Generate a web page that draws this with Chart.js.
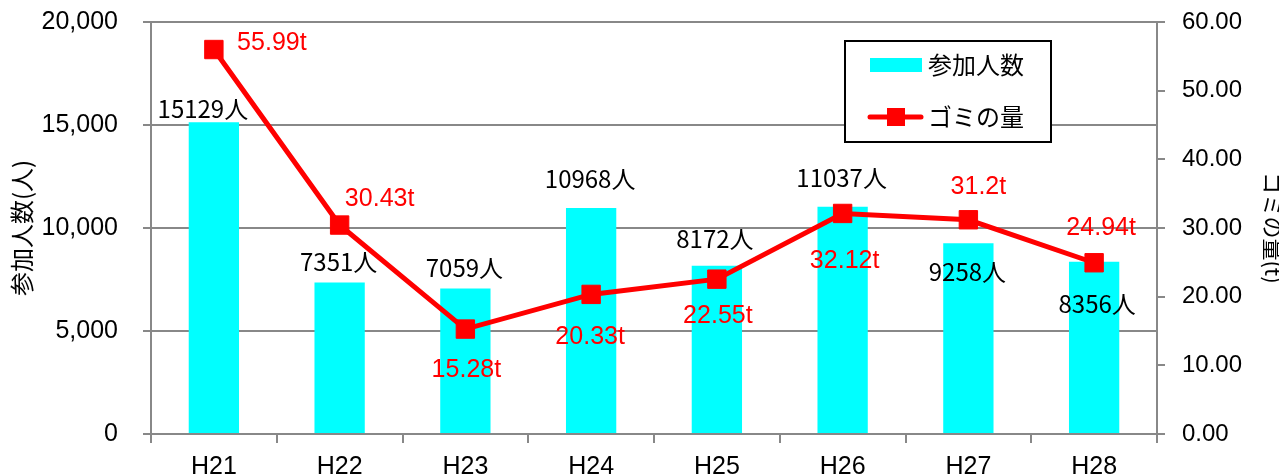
<!DOCTYPE html>
<html>
<head>
<meta charset="utf-8">
<script src="https://cdn.jsdelivr.net/npm/chart.js"></script>
<style>
  body { margin: 0; background: #fff; }
</style>
</head>
<body>
<canvas id="chart" width="1279" height="476"></canvas>
<script>
// データ
const years = ['H21', 'H22', 'H23', 'H24', 'H25', 'H26', 'H27', 'H28'];
const participants = [15129, 7351, 7059, 10968, 8172, 11037, 9258, 8356];
const garbage = [55.99, 30.43, 15.28, 20.33, 22.55, 32.12, 31.2, 24.94];
const garbageText = ['55.99', '30.43', '15.28', '20.33', '22.55', '32.12', '31.2', '24.94'];

// ラベルの位置調整 [dx, dy]
const barLabelOffset = [[-11, -13], [-1, -21], [-1, -21], [-1, -29], [-2, -27], [-1, -29], [-1, 29], [3, 42]];
const lineLabelOffset = [[58, -6], [40, -26], [1, 41], [-1, 43], [1, 37], [2, 48], [10, -33], [7, -35]];

const cjk = '"Noto Sans CJK JP", sans-serif';
const latin = '"Liberation Sans", Arial, sans-serif';

Chart.defaults.color = '#000';

// 値ラベル
const valueLabels = {
    id: 'valueLabels',
    afterDatasetsDraw(chart) {
        const ctx = chart.ctx;
        const lineMeta = chart.getDatasetMeta(0);
        const barMeta = chart.getDatasetMeta(1);
        ctx.save();
        ctx.textAlign = 'center';
        ctx.textBaseline = 'middle';
        ctx.font = '24px ' + cjk;
        ctx.fillStyle = '#000';
        barMeta.data.forEach(function(bar, i) {
            ctx.fillText(participants[i] + '人', bar.x + barLabelOffset[i][0], bar.y + barLabelOffset[i][1]);
        });
        ctx.font = '25px ' + latin;
        ctx.fillStyle = '#ff0000';
        lineMeta.data.forEach(function(pt, i) {
            ctx.fillText(garbageText[i] + 't', pt.x + lineLabelOffset[i][0], pt.y + lineLabelOffset[i][1]);
        });
        ctx.restore();
    }
};

// 凡例（枠付き）
const boxLegend = {
    id: 'boxLegend',
    afterDraw(chart) {
        const ctx = chart.ctx;
        ctx.save();
        ctx.fillStyle = '#fff';
        ctx.fillRect(845, 41, 206, 101);
        ctx.strokeStyle = '#000';
        ctx.lineWidth = 2;
        ctx.strokeRect(845, 41, 206, 101);

        ctx.fillStyle = '#00ffff';
        ctx.fillRect(870, 58, 52, 14);

        ctx.strokeStyle = '#ff0000';
        ctx.lineWidth = 5;
        ctx.lineCap = 'round';
        ctx.beginPath();
        ctx.moveTo(870, 117);
        ctx.lineTo(921, 117);
        ctx.stroke();
        ctx.fillStyle = '#ff0000';
        ctx.fillRect(887, 108, 18, 18);

        ctx.fillStyle = '#000';
        ctx.font = '24px ' + cjk;
        ctx.textAlign = 'left';
        ctx.textBaseline = 'middle';
        ctx.fillText('参加人数', 928, 65);
        ctx.fillText('ゴミの量', 928, 117);
        ctx.restore();
    }
};

// 縦軸の余白を目盛ラベルの半分だけにする
function fitVertical(width) {
    return function(s) {
        s.width = width;
        s.paddingTop = 14;
        s.paddingBottom = 14;
    };
}

new Chart(document.getElementById('chart'), {
    data: {
        labels: years,
        datasets: [{
            type: 'line',
            label: 'ゴミの量',
            data: garbage,
            yAxisID: 'y2',
            borderColor: '#ff0000',
            backgroundColor: '#ff0000',
            borderWidth: 5,
            pointStyle: 'rect',
            pointRadius: 13,
            pointBorderWidth: 1,
            tension: 0,
            order: 0
        }, {
            type: 'bar',
            label: '参加人数',
            data: participants,
            yAxisID: 'y',
            backgroundColor: '#00ffff',
            barPercentage: 0.4,
            categoryPercentage: 1,
            order: 1
        }]
    },
    options: {
        responsive: false,
        animation: false,
        layout: { padding: { top: 22, right: 0, bottom: 0, left: 0 } },
        plugins: {
            legend: { display: false },
            tooltip: { enabled: false }
        },
        scales: {
            x: {
                offset: true,
                grid: { offset: true, drawOnChartArea: false, tickLength: 9, color: '#888', lineWidth: 2 },
                border: { color: '#888', width: 2 },
                ticks: { font: { family: latin, size: 25 }, padding: 9 },
                afterFit: function(s) { s.height = 42; }
            },
            y: {
                position: 'left',
                min: 0,
                max: 20000,
                grid: { color: '#888', lineWidth: 2, tickLength: 8 },
                border: { color: '#888', width: 2 },
                ticks: {
                    stepSize: 5000,
                    padding: 25,
                    font: { family: latin, size: 25 },
                    callback: function(v) { return v.toLocaleString('en-US'); }
                },
                title: {
                    display: true,
                    text: '参加人数(人)',
                    font: { family: cjk, size: 24, lineHeight: 1 },
                    padding: { top: 10, bottom: 0 }
                },
                afterFit: fitVertical(151)
            },
            y2: {
                position: 'right',
                min: 0,
                max: 60,
                grid: { drawOnChartArea: false, color: '#888', lineWidth: 2, tickLength: 8 },
                border: { color: '#888', width: 2 },
                ticks: {
                    stepSize: 10,
                    padding: 17,
                    font: { family: latin, size: 24 },
                    callback: function(v) { return v.toFixed(2); }
                },
                title: {
                    display: true,
                    text: 'ゴミの量(t)',
                    font: { family: cjk, size: 22, lineHeight: 1 },
                    padding: { top: -5, bottom: 0 }
                },
                afterFit: fitVertical(122)
            }
        }
    },
    plugins: [valueLabels, boxLegend]
});
</script>
</body>
</html>
